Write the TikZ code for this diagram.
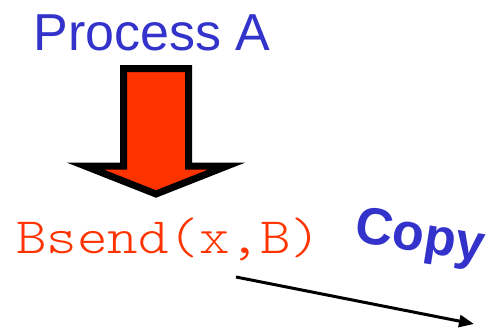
\documentclass[tikz,border=0pt]{standalone}
\usepackage{fontspec}
\setmainfont{Liberation Sans}
\newfontfamily\monolight{Latin Modern Mono Light}
\usetikzlibrary{arrows.meta}
\definecolor{pblue}{HTML}{3333CC}
\definecolor{pred}{HTML}{FF3300}
\begin{document}
\begin{tikzpicture}[x=1pt,y=-1pt,
  title/.style={text=pblue,font=\fontsize{52}{60}\selectfont,inner sep=0pt,anchor=base},
  code/.style={text=pred,font=\monolight\fontsize{51}{60}\selectfont,inner sep=0pt,anchor=base west,xscale=1.14},
  lbl/.style={text=pblue,font=\bfseries\fontsize{52}{60}\selectfont,inner sep=0pt},
  bigarrow/.style={draw=black,fill=pred,line width=7pt,miter limit=10},
  msg/.style={-{Triangle[length=15pt,width=12pt]},line width=3pt}]
\useasboundingbox (0,0) rectangle (491,330);
\node[title] (pa) at (152,50) {Process A};
\path[bigarrow] (123.5,68.5) -- (188.5,68.5) -- (188.5,166) -- (227,166) -- (156,194) -- (85,166) -- (123.5,166) -- cycle;
\node[code] (bs) at (16,253) {Bsend(x,B)};
\node[lbl,rotate=-9] (cp) at (420,239) {Copy};
\coordinate (s) at (236,277);
\coordinate (e) at (474,324);
\draw[msg] (s) -- (e);
\end{tikzpicture}
\end{document}
